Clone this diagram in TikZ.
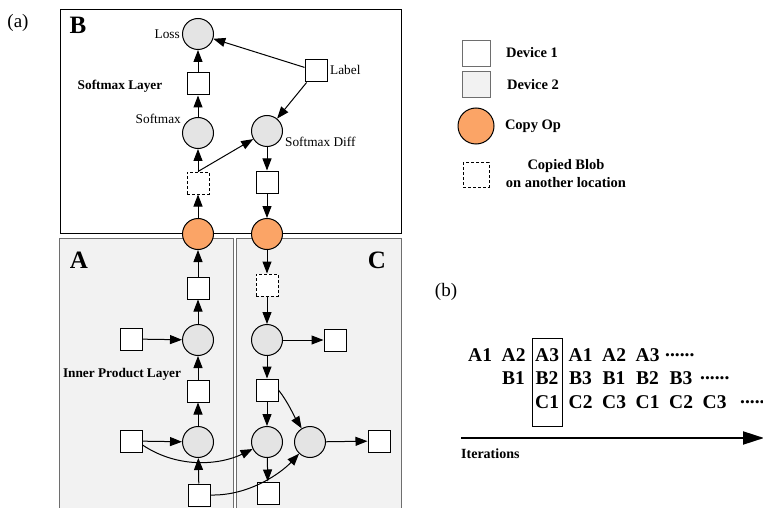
\documentclass[tikz,border=0pt]{standalone}
\usepackage{fontspec}
\setmainfont{Liberation Serif}
\usetikzlibrary{arrows.meta}
\definecolor{opgray}{HTML}{E4E4E4}
\definecolor{devtwo}{HTML}{F2F2F2}
\definecolor{copyorange}{HTML}{FBA466}
\definecolor{rimgray}{HTML}{6E6E6E}

\begin{document}
\begin{tikzpicture}[x=1pt,y=-1pt,
  op/.style={draw,circle,line width=1pt,fill=opgray,minimum size=31pt,inner sep=0pt},
  blob/.style={draw,rectangle,line width=1pt,fill=white,minimum size=22pt,inner sep=0pt},
  copyop/.style={op,fill=copyorange},
  copied/.style={blob,dash pattern=on 3pt off 2pt},
  flow/.style={line width=1pt,-{Triangle[length=12pt,width=9pt]}},
  txt/.style={font=\fontsize{13.3}{15}\selectfont,inner sep=0pt},
  btxt/.style={font=\fontsize{13.3}{15}\selectfont\bfseries,inner sep=0pt},
  legtxt/.style={font=\fontsize{14.5}{18}\selectfont\bfseries,inner sep=0pt},
  region/.style={font=\fontsize{25}{28}\selectfont\bfseries,inner sep=0pt},
  tok/.style={font=\fontsize{19.5}{22}\selectfont\bfseries,inner sep=0pt,anchor=west}]
\clip (0,0) rectangle (763,508);
\fill[white] (0,0) rectangle (763,508);

% (a) regions
\draw[line width=0.8pt] (60,9) rectangle (401,233);
\fill[devtwo] (59,238) rectangle (233,515);
\draw[rimgray,line width=1pt] (59,515) -- (59,238) -- (233,238) -- (233,515);
\fill[devtwo] (236,238) rectangle (401,515);
\draw[rimgray,line width=1pt] (236,515) -- (236,238) -- (401,238) -- (401,515);

\node[font=\fontsize{19}{22}\selectfont,inner sep=0pt] (la) at (18,23) {(a)};
\node[region] (rb) at (78,25) {B};
\node[region] (ra) at (79,260) {A};
\node[region] (rc) at (377,260) {C};

% softmax layer (B)
\node[op] (loss) at (198,34) {};
\node[blob] (lossbox) at (198,84) {};
\node[op] (smax) at (198,133) {};
\node[blob] (label) at (316,71) {};
\node[op] (sdiff) at (267,131) {};
\node[copied] (cpyB) at (198,183) {};
\node[blob] (sdbox) at (267,182) {};
\node[copyop] (cpA) at (198,234) {};
\node[copyop] (cpC) at (267,234) {};

\node[txt,anchor=east] (tloss) at (180,34) {Loss};
\node[btxt] (tsl) at (120,86) {Softmax Layer};
\node[txt,anchor=east] (tsmax) at (181,119) {Softmax};
\node[txt,anchor=west] (tlabel) at (330,70) {Label};
\node[txt,anchor=west] (tsdiff) at (285,142) {Softmax Diff};

% inner product layer, forward (A)
\node[blob] (aTop) at (198,288) {};
\node[op] (aIp) at (198,340) {};
\node[blob] (aW) at (131,339) {};
\node[blob] (aMid) at (198,391) {};
\node[op] (aLow) at (198,442) {};
\node[blob] (aIn) at (131,441) {};
\node[blob] (aBot) at (199,495) {};
\node[btxt] (tip) at (122,374) {Inner Product Layer};

% inner product layer, backward (C)
\node[copied] (cpyC) at (267,285) {};
\node[op] (cIp) at (267,340) {};
\node[blob] (cOut) at (335,340) {};
\node[blob] (cMid) at (267,390) {};
\node[op] (cLow) at (267,442) {};
\node[op] (cLowb) at (310,442) {};
\node[blob] (cOutb) at (379,441) {};
\node[blob] (cBot) at (268,493) {};

\path[draw,flow] (lossbox) -- (loss);
\path[draw,flow] (smax) -- (lossbox);
\path[draw,flow] (cpyB) -- (smax);
\path[draw,flow] (cpyB.north) -- (sdiff);
\path[draw,flow] (label) -- (loss);
\path[draw,flow] (label) -- (sdiff);
\path[draw,flow] (sdiff) -- (sdbox);
\path[draw,flow] (sdbox) -- (cpC);
\path[draw,flow] (cpA) -- (cpyB);

\path[draw,flow] (aTop) -- (cpA);
\path[draw,flow] (aIp) -- (aTop);
\path[draw,flow] (aW) -- (aIp);
\path[draw,flow] (aMid) -- (aIp);
\path[draw,flow] (aLow) -- (aMid);
\path[draw,flow] (aIn) -- (aLow);
\path[draw,flow] (aBot) -- (aLow);
\path[draw,flow] ([yshift=-4pt]aIn.east) .. controls (180,470) and (222,464) .. (cLow);
\path[draw,flow] (aBot.east) .. controls (250,496) and (282,472) .. (cLowb);

\path[draw,flow] (cpC) -- (cpyC);
\path[draw,flow] (cpyC) -- (cIp);
\path[draw,flow] (cIp) -- (cOut);
\path[draw,flow] (cIp) -- (cMid);
\path[draw,flow] (cMid) -- (cLow);
\path[draw,flow] (cMid.east) .. controls (288,402) and (294,416) .. (cLowb);
\path[draw,flow] (cLow) -- (cBot);
\path[draw,flow] (cLowb) -- (cOutb);

% legend
\node[blob,draw=rimgray,minimum width=28pt,minimum height=26pt] (leg1) at (476,54) {};
\node[blob,draw=rimgray,fill=devtwo,minimum width=28pt,minimum height=26pt] (leg2) at (476,85) {};
\node[copyop,minimum size=36pt] (leg3) at (476,126) {};
\node[copied,minimum width=26pt,minimum height=24pt] (leg4) at (476,175) {};
\node[legtxt] (tleg1) at (532,53) {Device 1};
\node[legtxt] (tleg2) at (533,85) {Device 2};
\node[legtxt] (tleg3) at (533,126) {Copy Op};
\node[legtxt,align=center] (tleg4) at (566,174) {Copied Blob\\on another location};

% (b) pipeline
\node[font=\fontsize{19}{22}\selectfont,inner sep=0pt] (lb) at (446,292) {(b)};
\draw[line width=0.7pt] (532,338) rectangle (562,426);
\foreach \t [count=\i] in {A1,A2,A3,A1,A2,A3}
  \node[tok] (ra\i) at ({468+33.5*(\i-1)},355) {\t};
\node[tok] (radots) at (665,355) {......};
\foreach \t [count=\i] in {B1,B2,B3,B1,B2,B3}
  \node[tok] (rb\i) at ({502+33.5*(\i-1)},378) {\t};
\node[tok] (rbdots) at (700,378) {......};
\foreach \t [count=\i] in {C1,C2,C3,C1,C2,C3}
  \node[tok] (rc\i) at ({535+33.5*(\i-1)},402) {\t};
\node[tok] (rcdots) at (740,402) {......};

\coordinate (it0) at (461,438);
\coordinate (it1) at (764,438);
\draw[line width=2pt,-{Triangle[length=21pt,width=13pt]}] (it0) -- (it1);
\node[legtxt,font=\fontsize{14}{16}\selectfont\bfseries,anchor=west] (titer) at (461,454) {Iterations};
\end{tikzpicture}
\end{document}
